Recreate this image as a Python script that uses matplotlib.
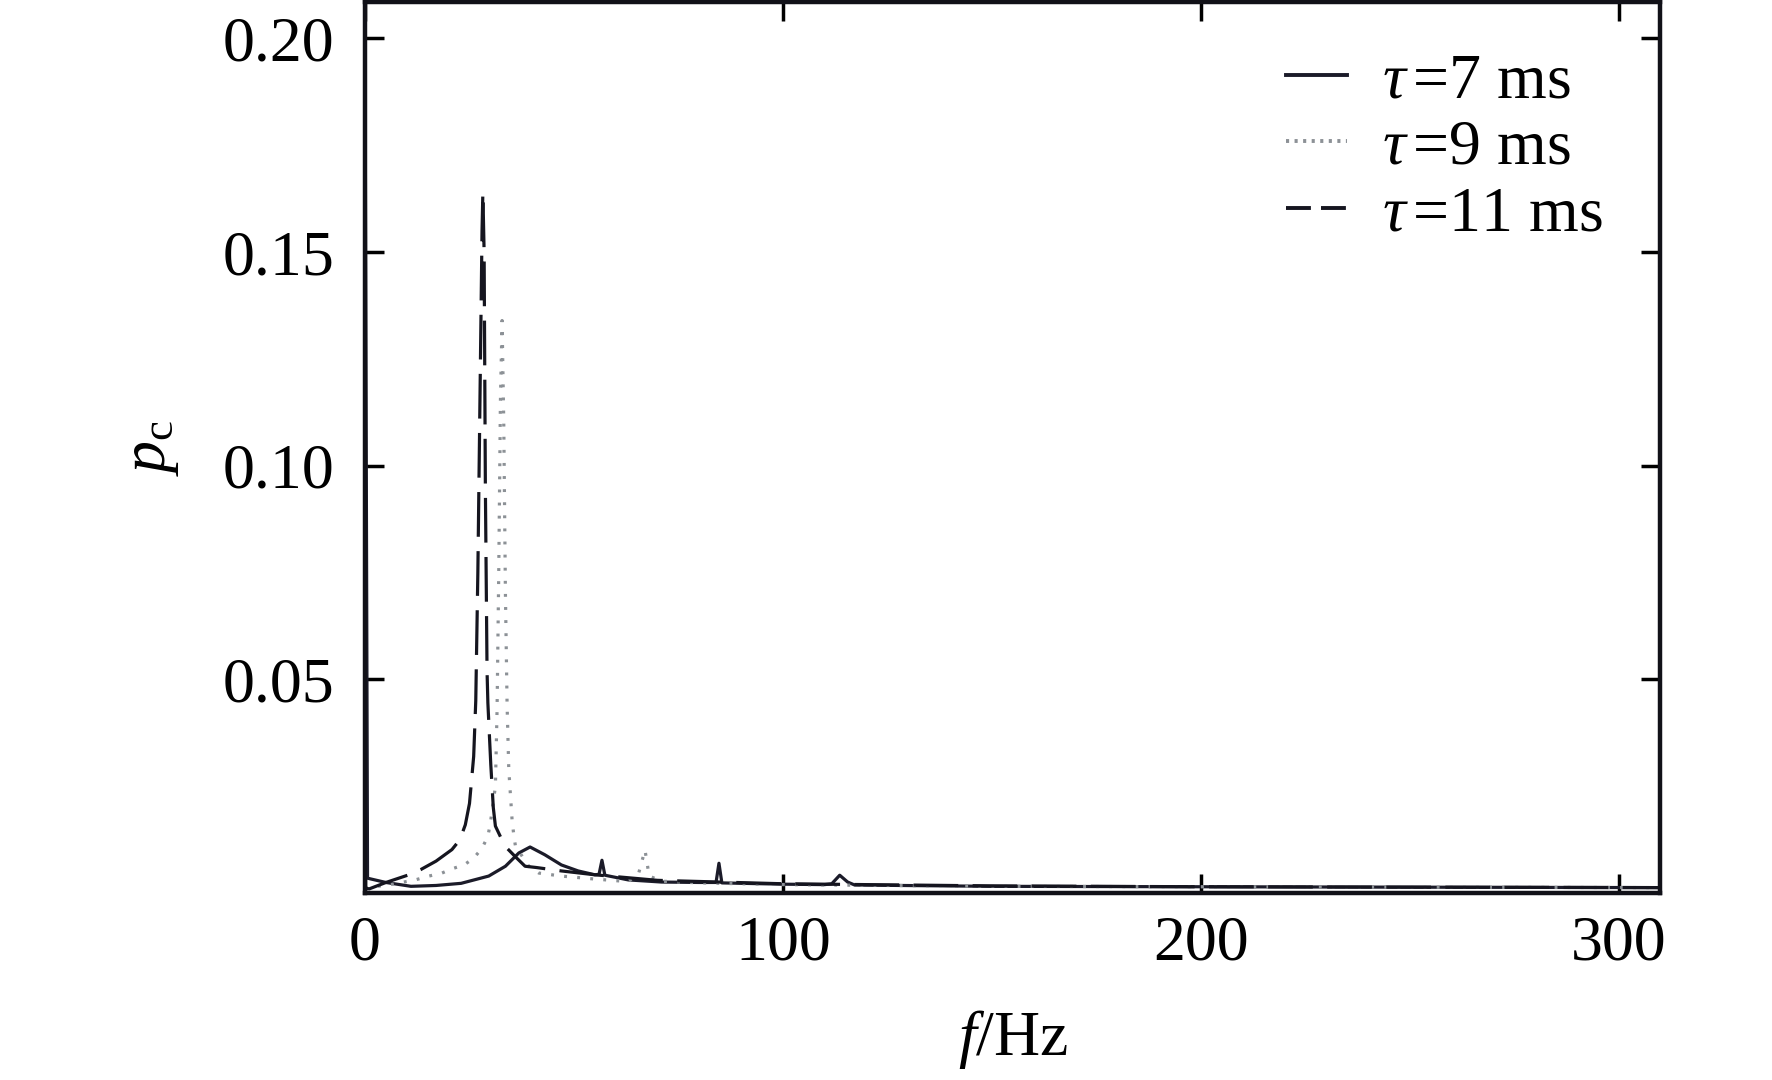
import matplotlib
matplotlib.use("Agg")
import matplotlib.pyplot as plt

plt.rcParams['font.family'] = ['Liberation Serif', 'DejaVu Serif']
plt.rcParams['mathtext.fontset'] = 'custom'
plt.rcParams['mathtext.rm'] = 'Liberation Serif'
plt.rcParams['mathtext.it'] = 'Liberation Serif:italic'

# ---- data ----
f_7 = [0.0, 0.6, 5, 11, 17, 23, 29.6, 33.6, 36.8, 39.5, 43, 47, 51, 55, 56.0, 56.7, 57.4,
       63, 71, 80, 84.0, 84.7, 85.4, 100, 110, 111.7, 113.6, 115.5, 117.2, 150, 200, 250, 310]
p_7 = [0.197, 0.0035, 0.0025, 0.0016, 0.0018, 0.0023, 0.0040, 0.0063, 0.0094, 0.0108, 0.0090,
       0.0066, 0.0052, 0.0043, 0.0044, 0.0077, 0.0042, 0.0031, 0.0026, 0.0025, 0.0025, 0.0070,
       0.0024, 0.0021, 0.0020, 0.0022, 0.0042, 0.0026, 0.0019, 0.0016, 0.0015, 0.0014, 0.0013]

f_9 = [0.0, 6, 12, 15.3, 18.4, 20.8, 23.7, 26, 28, 29.4, 30, 31.2, 31.6, 32.0, 32.4, 32.8,
       33.2, 33.6, 34.0, 34.4, 35.2, 35.6, 36, 39.2, 41.6, 47, 55, 63, 65.5, 67, 68, 71, 80,
       100, 150, 200, 250, 310]
p_9 = [0.0012, 0.0020, 0.0031, 0.0040, 0.0047, 0.0057, 0.0066, 0.0082, 0.0105, 0.0133, 0.0164,
       0.025, 0.043, 0.075, 0.115, 0.134, 0.110, 0.070, 0.044, 0.029, 0.017, 0.0136, 0.011,
       0.0063, 0.0047, 0.0040, 0.0033, 0.0027, 0.0047, 0.0101, 0.0040, 0.0028, 0.0024,
       0.0020, 0.0016, 0.0015, 0.0014, 0.0013]

f_11 = [0.0, 1, 5, 10.5, 13.3, 17, 20.8, 22.7, 24, 25, 26, 26.5, 27, 27.5, 28.0, 28.2, 28.5,
        28.8, 29.2, 29.4, 30.1, 30.7, 31.2, 32.8, 34, 36, 38.3, 41, 47, 55, 70, 100, 150,
        200, 250, 310]
p_11 = [0.0012, 0.0010, 0.0025, 0.0043, 0.0055, 0.0075, 0.0102, 0.0125, 0.016, 0.021, 0.032,
        0.045, 0.075, 0.115, 0.155, 0.164, 0.150, 0.095, 0.052, 0.0445, 0.030, 0.020, 0.0157,
        0.0124, 0.0105, 0.0085, 0.0063, 0.0060, 0.0052, 0.0043, 0.0030, 0.0022, 0.0017,
        0.0015, 0.0014, 0.0013]

labels = [r'$\tau\,$=7 ms', r'$\tau\,$=9 ms', r'$\tau\,$=11 ms']
x_ticks = [0, 100, 200, 300]
y_ticks = [0.05, 0.10, 0.15, 0.20]
y_ticklabels = ['0.05', '0.10', '0.15', '0.20']

# ---- figure ----
fig = plt.figure(figsize=(17.72, 10.8), dpi=100)
ax = fig.add_axes([0.206, 0.173, 0.731, 0.825])

lw = 2.3
ax.plot(f_7, p_7, color='#1b1b29', lw=lw, ls='-', label=labels[0], solid_joinstyle='round')
ax.plot(f_9, p_9, color='#8c9196', lw=lw, ls=(0, (0.9, 3.2)), label=labels[1])
ax.plot(f_11, p_11, color='#15151f', lw=lw, ls=(0, (14, 4.5)), label=labels[2])

ax.set_xlim(0, 310)
ax.set_ylim(0, 0.2085)
ax.set_xticks(x_ticks)
ax.set_xticklabels([str(t) for t in x_ticks])
ax.set_yticks(y_ticks)
ax.set_yticklabels(y_ticklabels)

ax.tick_params(direction='in', length=14, width=2.5, top=True, right=True,
               labelsize=46, pad=22)
ax.tick_params(axis='x', pad=16)
for s in ax.spines.values():
    s.set_linewidth(3.2)
    s.set_color('#111118')

ax.set_xlabel(r'$f$/Hz', fontsize=46, labelpad=25)
ax.set_ylabel(r'$p_{\mathrm{c}}$', fontsize=46, labelpad=30)

leg = ax.legend(loc='upper right', frameon=False, fontsize=46,
                handlelength=0.95, handletextpad=0.55, labelspacing=0.12,
                borderaxespad=0.0, bbox_to_anchor=(0.975, 0.972))
for h in leg.get_lines():
    h.set_linewidth(2.8)
leg.get_lines()[2].set_dashes((6.4, 2.6))
leg.get_lines()[1].set_dashes((0.8, 1.4))

fig.savefig('out.png', dpi=100)
